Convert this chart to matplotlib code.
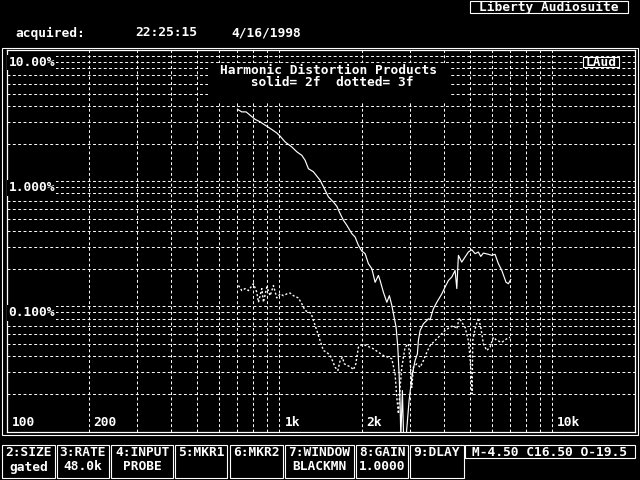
import matplotlib
matplotlib.use("Agg")
import matplotlib.pyplot as plt
from matplotlib.patches import Rectangle

# 2nd harmonic (solid), frequency in Hz, level in %
freq_2f = [702, 728, 755, 781, 815, 850, 874, 899, 938, 978, 1006, 1049, 1110, 1158, 1208,
           1242, 1277, 1332, 1409, 1470, 1512, 1577, 1623, 1669, 1716, 1766, 1842, 1894, 1947,
           2004, 2061, 2118, 2181, 2242, 2305, 2339, 2404, 2475, 2529, 2581, 2632, 2676, 2715,
           2745, 2768, 2785, 2822, 2851, 2911, 2986, 3063, 3141, 3203, 3230, 3277, 3370, 3515,
           3565, 3665, 3773, 3935, 4046, 4159, 4281, 4402, 4466, 4527, 4657, 4787, 4923, 5068,
           5210, 5357, 5467, 5589, 5831, 5998, 6167, 6341, 6527, 6767, 6900, 7041]
pct_2f = [3.75, 3.58, 3.58, 3.37, 3.12, 2.98, 2.86, 2.75, 2.59, 2.43, 2.29, 2.06, 1.88, 1.72, 1.61,
          1.47, 1.26, 1.19, 1.02, 0.85, 0.75, 0.683, 0.631, 0.551, 0.488, 0.445, 0.382, 0.358, 0.308,
          0.277, 0.264, 0.220, 0.200, 0.156, 0.177, 0.161, 0.130, 0.108, 0.122, 0.102, 0.0821, 0.0683, 0.0473,
          0.0289, 0.0167, 0.009, 0.0213, 0.009, 0.009, 0.0177, 0.0281, 0.037, 0.0419, 0.0535, 0.0643, 0.0727, 0.0797,
          0.0783, 0.0959, 0.108, 0.126, 0.143, 0.161, 0.172, 0.194, 0.139, 0.256, 0.226, 0.248, 0.272, 0.284,
          0.264, 0.272, 0.251, 0.267, 0.261, 0.256, 0.261, 0.220, 0.194, 0.156, 0.152, 0.164]

# 3rd harmonic (dotted)
freq_3f = [708, 728, 749, 770, 803, 826, 838, 862, 874, 899, 925, 951, 978, 1006, 1034, 1064,
           1094, 1125, 1174, 1208, 1242, 1306, 1332, 1371, 1409, 1449, 1491, 1534, 1564, 1600,
           1637, 1669, 1701, 1730, 1780, 1830, 1866, 1905, 1947, 1975, 2031, 2118, 2210, 2305,
           2404, 2507, 2581, 2653, 2692, 2729, 2768, 2808, 2887, 2969, 3012, 3055, 3096, 3187,
           3277, 3370, 3467, 3565, 3719, 3879, 4046, 4220, 4339, 4466, 4564, 4657, 4787, 4923,
           4995, 5081, 5110, 5210, 5357, 5467, 5589, 5750, 5912, 6080, 6256, 6527, 6808, 6999]
pct_3f = [0.147, 0.134, 0.139, 0.134, 0.152, 0.130, 0.108, 0.139, 0.108, 0.143, 0.122, 0.147, 0.117, 0.126, 0.122, 0.126,
          0.128, 0.122, 0.117, 0.105, 0.0929, 0.0884, 0.0773, 0.0643, 0.0535, 0.0445, 0.0431, 0.0406, 0.037, 0.0327,
          0.0308, 0.037, 0.0393, 0.0348, 0.0337, 0.0327, 0.0312, 0.0348, 0.0473, 0.0488, 0.0497, 0.0479, 0.0459, 0.0431,
          0.0406, 0.0393, 0.0382, 0.0289, 0.0188, 0.0139, 0.0226, 0.0327, 0.0473, 0.0503, 0.037, 0.0226, 0.0327, 0.0348,
          0.0327, 0.037, 0.0431, 0.0488, 0.0535, 0.0586, 0.0643, 0.0683, 0.0705, 0.0663, 0.0812, 0.0749, 0.0683, 0.0535,
          0.0393, 0.0201, 0.0535, 0.0663, 0.0812, 0.0683, 0.0503, 0.0445, 0.0473, 0.0568, 0.0535, 0.0518, 0.0552, 0.0568]

x_grid = [200, 300, 400, 500, 600, 700, 800, 900,
          1000, 2000, 3000, 4000, 5000, 6000, 7000, 8000, 9000, 10000]
y_grid = [0.02, 0.03, 0.04, 0.05, 0.06, 0.07, 0.08, 0.09,
          0.1, 0.2, 0.3, 0.4, 0.5, 0.6, 0.7, 0.8, 0.9,
          1, 2, 3, 4, 5, 6, 7, 8, 9, 10]
x_tick_vals = [100, 200, 1000, 2000, 10000]
x_tick_text = ["100", "200", "1k", "2k", "10k"]
y_tick_vals = [10, 1, 0.1]
y_tick_text = ["10.00%", "1.000%", "0.100%"]

menu_top = ["2:SIZE", "3:RATE", "4:INPUT", "5:MKR1", "6:MKR2", "7:WINDOW", "8:GAIN", "9:DLAY"]
menu_bot = ["gated", "48.0k", "PROBE", "", "", "BLACKMN", "1.0000", ""]
status = "M-4.50 C16.50 O-19.5"

W, H = 640, 480
FONT = dict(family="DejaVu Sans Mono", weight="bold", size=9.3, color="white")


def fx(x):
    return x / W


def fy(y):
    return 1 - y / H


def box(fig, x0, y0, x1, y1, fill=False, zorder=1, lw=0.8):
    r = Rectangle((fx(x0), fy(y1)), (x1 - x0) / W, (y1 - y0) / H, transform=fig.transFigure,
                  facecolor="black", fill=fill, edgecolor="white" if not fill else "black",
                  lw=lw, zorder=zorder)
    fig.add_artist(r)


fig = plt.figure(figsize=(6.4, 4.8), dpi=100, facecolor="black")
ax = fig.add_axes([fx(6.5), fy(431.7), (634.5 - 6.5) / W, (431.7 - 50.5) / H])
ax.set_facecolor("black")
ax.set_xscale("log")
ax.set_yscale("log")
ax.set_xlim(100, 20000)
ax.set_ylim(0.01, 11.07)

ax.set_xticks(x_grid)
ax.set_yticks(y_grid)
ax.minorticks_off()
ax.tick_params(which="both", length=0, labelbottom=False, labelleft=False)
ax.grid(True, color="white", lw=0.7, ls=(0, (3, 2.5)))
for s in ax.spines.values():
    s.set_color("white")
    s.set_linewidth(0.9)

ax.plot(freq_2f, pct_2f, color="white", lw=0.85, zorder=4)
ax.plot(freq_3f, pct_3f, color="white", lw=1.0, ls=(0, (1.5, 1.5)), zorder=4)

for v, t in zip(y_tick_vals, y_tick_text):
    ax.annotate(t, (100, v), xytext=(2, 0), textcoords="offset pixels", ha="left", va="top",
                zorder=6, bbox=dict(facecolor="black", edgecolor="none", pad=1), **FONT)
for v, t in zip(x_tick_vals, x_tick_text):
    ax.annotate(t, (v, 0.01), xytext=(5, 3), textcoords="offset pixels", ha="left", va="bottom",
                zorder=6, bbox=dict(facecolor="black", edgecolor="none", pad=1), **FONT)

# title panel over the grid
box(fig, 208, 63, 448, 100, fill=True, zorder=2)
fig.text(fx(328), fy(76.5), "Harmonic Distortion Products\n solid= 2f  dotted= 3f",
         ha="center", va="center", multialignment="center", linespacing=0.8, zorder=3, **FONT)

# LAud tag
box(fig, 583, 57, 619, 67, fill=True, zorder=2)
box(fig, 583, 57, 619, 67, zorder=3)
fig.text(fx(601), fy(62), "LAud", ha="center", va="center", zorder=4, **FONT)

# outer frame
box(fig, 2, 48, 638, 435, zorder=1)

# header
box(fig, 470, 0.5, 628, 13, zorder=1)
fig.text(fx(549), fy(7), "Liberty Audiosuite", ha="center", va="center", **FONT)
fig.text(fx(15), fy(33), "acquired:", ha="left", va="center", **FONT)
fig.text(fx(135), fy(33), "22:25:15", ha="left", va="center", **FONT)
fig.text(fx(231), fy(33), "4/16/1998", ha="left", va="center", **FONT)

# function key menu
menu_x = [(2, 55), (57, 109), (111, 173), (175, 227), (230, 283), (285, 354), (356, 408), (410, 464)]
for (x0, x1), t, b in zip(menu_x, menu_top, menu_bot):
    box(fig, x0, 445, x1, 478)
    fig.text(fx((x0 + x1) / 2), fy(452), t, ha="center", va="center", **FONT)
    fig.text(fx((x0 + x1) / 2), fy(467), b, ha="center", va="center", **FONT)
box(fig, 465, 445, 635, 458)
fig.text(fx(550), fy(452), status, ha="center", va="center", **FONT)

fig.savefig("out.png", dpi=100, facecolor="black")
